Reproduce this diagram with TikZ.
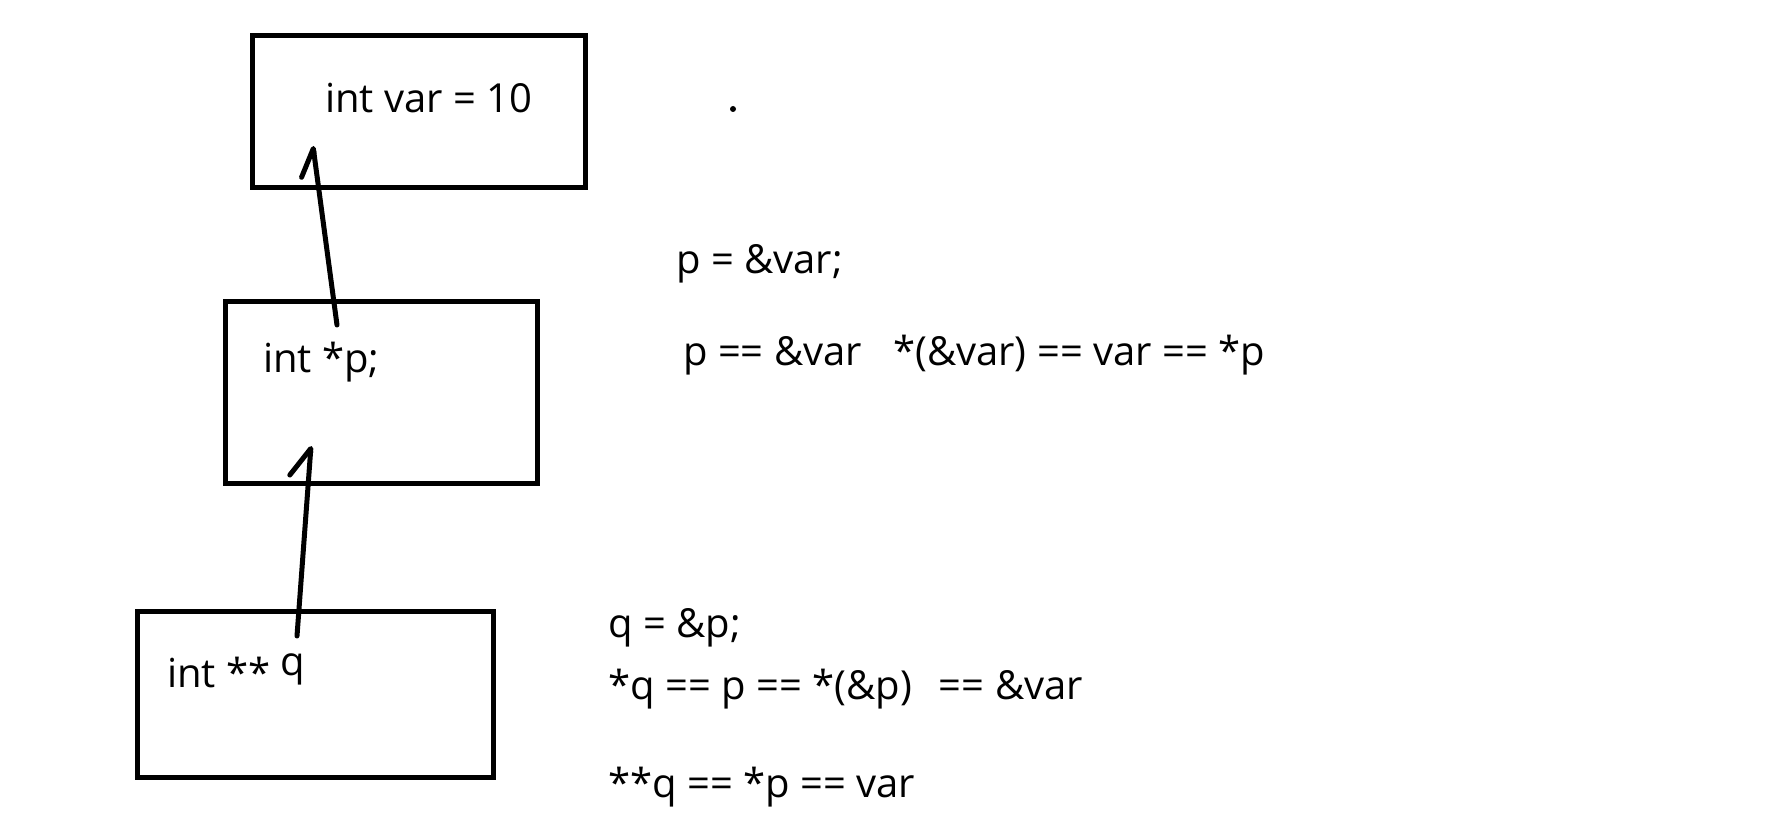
\documentclass[tikz,border=0pt]{standalone}
\usepackage{fontspec}
\setmainfont{Open Sans}
\usetikzlibrary{arrows.meta}

\tikzset{
  membox/.style={draw, line width=5pt, inner sep=0pt},
  code/.style={anchor=base west, inner sep=0pt, font=\fontsize{40}{48}\selectfont},
  pointer/.style={line width=5pt, line cap=round, line join=round}
}

\begin{document}
\begin{tikzpicture}[x=1pt, y=-1pt]
        \useasboundingbox (0,0) rectangle (1782,837);

        % Box of var
        \node[membox, minimum width=333pt, minimum height=152pt] (varbox) at (418.5,112) {};
        \node[code] (vartext) at (325,113) {int var = 10};

        % Box of p
        \node[membox, minimum width=312pt, minimum height=182pt] (pbox) at (381,392) {};
        \node[code] (ptext) at (263,372) {int *p;};

        % Box of q
        \node[membox, minimum width=356pt, minimum height=166pt] (qbox) at (315,694) {};
        \node[code] (qtext) at (167,687) {int ** \raisebox{12pt}{q}};

        % Arrow p -> var
        \coordinate (pfoot) at (337,325);
        \coordinate (vartip) at (313,146);
        \draw[pointer, -{Straight Barb[left, length=27pt, width=31pt, round]}] (pfoot) -- (vartip);

        % Arrow q -> p
        \coordinate (qfoot) at (297,636);
        \coordinate (ptip) at (311,446);
        \draw[pointer, -{Straight Barb[left, length=28pt, width=38pt, round]}] (qfoot) -- (ptip);

        % Stray dot
        \fill (733,109) circle (3pt);

        % Notes for p
        \node[code] (passign) at (676,273) {p = \&var;};
        \node[code] (pequal) at (683,365) {p == \&var \ \ *(\&var) == var == *p};

        % Notes for q
        \node[code] (qassign) at (608,637) {q = \&p;};
        \node[code] (qequal) at (608,699) {*q == p == *(\&p)\hspace{27pt}== \&var};
        \node[code] (qqequal) at (608,797) {**q == *p == var};
    \end{tikzpicture}
\end{document}
